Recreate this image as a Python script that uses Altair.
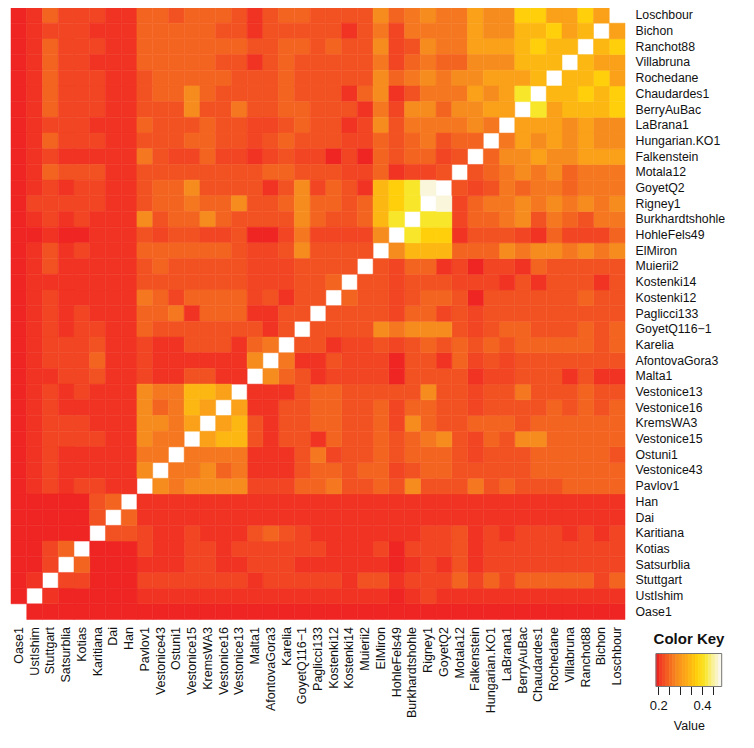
import altair as alt
import pandas as pd

ROW_NAMES = ["Loschbour","Bichon","Ranchot88","Villabruna","Rochedane","Chaudardes1","BerryAuBac","LaBrana1",
 "Hungarian.KO1","Falkenstein","Motala12","GoyetQ2","Rigney1","Burkhardtshohle","HohleFels49","ElMiron","Muierii2",
 "Kostenki14","Kostenki12","Paglicci133","GoyetQ116\u22121","Karelia","AfontovaGora3","Malta1","Vestonice13","Vestonice16",
 "KremsWA3","Vestonice15","Ostuni1","Vestonice43","Pavlov1","Han","Dai","Karitiana","Kotias","Satsurblia","Stuttgart",
 "UstIshim","Oase1"]
COL_NAMES = ROW_NAMES[::-1]

# value bands
LEVEL_VALUES = {"0":.19,"1":.20,"2":.21,"3":.225,"4":.24,"5":.26,"6":.28,"7":.31,"8":.34,"9":.37,"A":.41,"B":.47}
COLOR_DOMAIN = [.19,.20,.21,.225,.24,.26,.28,.31,.34,.37,.41,.47]
COLOR_RANGE = ["#EE2523","#F03323","#F14523","#F25222","#F46421","#F57820","#F78C1E","#FAA019","#FDB713","#FFCF0C","#F8E62A","#F9F6DC"]

# one row per sample, columns from the left up to the white diagonal
TRIANGLE = [
 "01422211 44 3 444 3 1 3 44 3 333 6 4 5 6 55 7 66 99 77 9 7",
 "01222111 44444 33 1 3333 3 1 3 5 2 5555 7 66 88 9 7 8",
 "01422211 4444444 33 44 3 4 33 6 2 3 6 5 5 777 8 9 88",
 "01422111 44444 33 1 3 4 333 33 5 2 4 5 4 4 666 888",
 "01422211 3 44444 333 4 333 33 6 4 5 6 5 66 777 8",
 "01422211 3 44 6 4 33 33 4 33 3 1 4 6 1 3 55 5 7 6 7 A",
 "01422211 333 6 33 5 33 44 3 3 3 1 5 2 66 4 66 77",
 "01222111 4 333 4 33 22 3 4 33 1 2 6 3 55 55 6 5",
 "01422211 333 44 33 2 3 4 333 22 4 3 4 5 3 44",
 "01211111 5 3 22 4 22 1 2 3 22 0 2 0 4 3 4 4 2 3",
 "01433311 33333333 44 333 22 4 1 22 3",
 "01212211 3 44 6 3333 1 3 6 2 4 3 1 8 9 A B",
 "02222211 3 44 5 44 6 33 4 6 44 3 4 8 9 A",
 "01212111 6 3 44 6 4 3 333 6 4 33 4 8 A",
 "00100111 3 2 33 22 3 00 2 5 2 2 22 6",
 "01312111 444444 3 22 3 6 3333",
 "01311111 3 4 33333 222 3333",
 "01111111 3333333 222 33 4",
 "01211111 5 4 2 4444 2 3 1 33",
 "01212111 44 5 1 444 11 33",
 "01212211 4 3333333 1 3",
 "01222311 2 11 333 1 4 5",
 "01222411 2 111111 6",
 "01122311 2 11 33 11",
 "01212111 6 55 88 7",
 "01211111 6 4 5 8 7",
 "01222111 66 5 7",
 "01222211 6 55",
 "01211111 55",
 "01211111 6",
 "01212211",
 "0000034",
 "000003",
 "00000",
 "0024",
 "002",
 "01",
 "0",
]

KEY_STARTS = [.19,.205,.22,.235,.25,.265,.28,.295,.31,.325,.34,.355,.37,.385,.40,.415,.43,.445,.46,.475]
KEY_STEP = .015
KEY_TICKS = [.2,.25,.3,.35,.4,.45]

records = []
for i, text in enumerate(TRIANGLE):
    cells = text.replace(" ", "")
    if len(cells) != 38 - i:
        raise ValueError(f"row {i}: {len(cells)}")
    for j, c in enumerate(cells):
        records.append({"row": ROW_NAMES[i], "col": COL_NAMES[j], "value": LEVEL_VALUES[c]})
        records.append({"row": COL_NAMES[j], "col": ROW_NAMES[i], "value": LEVEL_VALUES[c]})
data = pd.DataFrame(records)

FONT = "Liberation Sans"
color_scale = alt.Scale(domain=COLOR_DOMAIN, range=COLOR_RANGE)

heat = alt.Chart(data).mark_rect(strokeWidth=0.5).encode(
    x=alt.X("col:N", sort=COL_NAMES, scale=alt.Scale(paddingInner=0, paddingOuter=0),
            axis=alt.Axis(title=None, orient="bottom", domain=False, ticks=False, labelAngle=270, labelAlign="right",
                          labelBaseline="middle", labelFont=FONT, labelFontSize=12.5, labelPadding=7,
                          labelColor="#111111", labelOverlap=False)),
    y=alt.Y("row:N", sort=ROW_NAMES, scale=alt.Scale(paddingInner=0, paddingOuter=0),
            axis=alt.Axis(title=None, orient="right", domain=False, ticks=False, labelFont=FONT, labelFontSize=12.3,
                          labelPadding=10, labelColor="#111111", labelOverlap=False)),
    color=alt.Color("value:Q", scale=color_scale, legend=None),
    stroke=alt.Color("value:Q", scale=color_scale, legend=None),
)

key_x = alt.Scale(domain=[.19, .49], range=[645, 710.7])
key_data = pd.DataFrame({"start": KEY_STARTS, "end": [s + KEY_STEP for s in KEY_STARTS]})
key = alt.Chart(key_data).mark_rect(strokeWidth=0.7).encode(
    x=alt.X("start:Q", scale=key_x,
            axis=alt.Axis(title="Value", orient="bottom", offset=67, values=KEY_TICKS, domain=False, grid=False,
                          tickSize=8, tickColor="#222222", tickWidth=1, labelFont=FONT, labelFontSize=13,
                          labelColor="#111111", titleFont=FONT, titleFontSize=12.5, titleFontWeight="normal",
                          titleColor="#111111", labelPadding=5, titlePadding=7, labelOverlap=False,
                          labelExpr="(abs(datum.value-0.2)<0.001||abs(datum.value-0.4)<0.001)?format(datum.value,'.1f'):''")),
    x2="end:Q",
    y=alt.value(646), y2=alt.value(679),
    color=alt.Color("start:Q", scale=color_scale, legend=None),
    stroke=alt.Color("start:Q", scale=color_scale, legend=None),
)
outline = alt.Chart(pd.DataFrame({"a": [.19], "b": [.49]})).mark_rect(fill=None, stroke="#777777", strokeWidth=1).encode(
    x=alt.X("a:Q", scale=key_x, axis=None), x2="b:Q", y=alt.value(646), y2=alt.value(679),
)
key_title = alt.Chart(pd.DataFrame({"t": ["Color Key"]})).mark_text(
    font=FONT, fontSize=15, fontWeight="bold", color="#111111", align="center", baseline="middle"
).encode(text="t:N", x=alt.value(678), y=alt.value(631))

chart = alt.layer(heat, key, outline, key_title).resolve_scale(x="independent").resolve_axis(x="independent").properties(
    width=614, height=612, padding={"left": 2, "top": -1.5, "right": 0, "bottom": 0},
    background="white",
).configure_view(stroke=None)

chart.save("out.html", embed_options={"renderer": "svg", "actions": False})
